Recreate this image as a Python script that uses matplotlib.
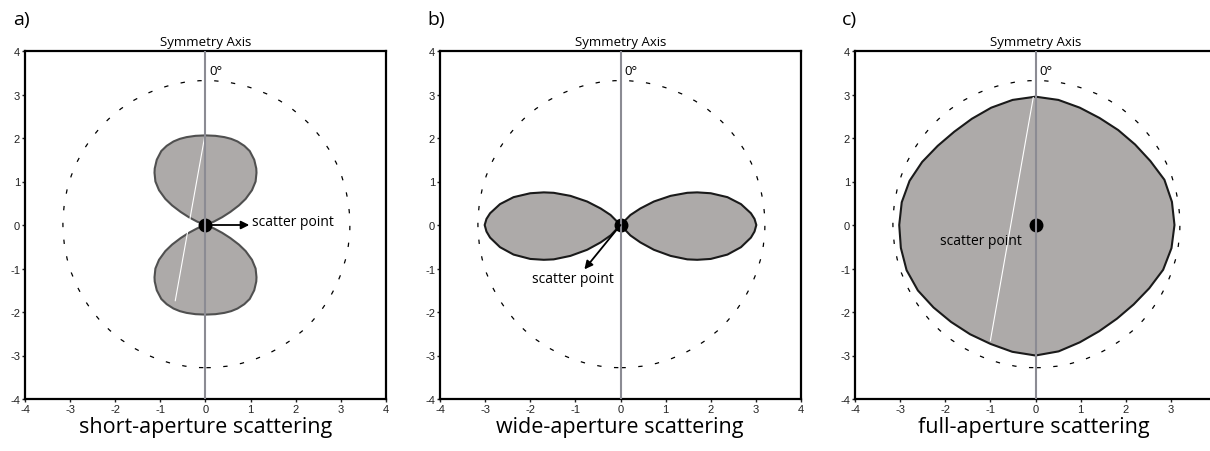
import numpy as np
import matplotlib
matplotlib.use("Agg")
import matplotlib.pyplot as plt
from matplotlib.patches import Polygon, Ellipse

plt.rcParams['axes.unicode_minus'] = False

# ---------------- data ----------------
ticks = [-4, -3, -2, -1, 0, 1, 2, 3, 4]
tick_labels = ['-4', '-3', '-2', '-1', '0', '1', '2', '3', '4']
panel_letters = ['a)', 'b)', 'c)']
panel_titles = ['short-aperture scattering', 'wide-aperture scattering',
                'full-aperture scattering']
axis_label = 'Symmetry Axis'
angle_label = '0°'
point_label = 'scatter point'

# panel a: upper lobe, height vs half-width (mirrored for the lower lobe)
lobeA_y = [2.06, 2.05, 2.02, 1.98, 1.92, 1.82, 1.70, 1.50, 1.30, 1.20, 1.00,
           0.80, 0.60, 0.45, 0.30, 0.18, 0.08, 0.00]
lobeA_hw = [0.00, 0.22, 0.42, 0.57, 0.71, 0.86, 0.98, 1.08, 1.125, 1.13, 1.11,
            1.03, 0.89, 0.74, 0.55, 0.37, 0.19, 0.00]

# panel b: right lobe, distance along x vs upper / lower extent (mirrored for left lobe)
lobeB_x = [0.00, 0.22, 0.44, 0.74, 1.11, 1.48, 1.70, 2.00, 2.37, 2.67, 2.89, 2.97, 3.01]
lobeB_up = [0.00, 0.23, 0.38, 0.54, 0.67, 0.74, 0.75, 0.73, 0.64, 0.48, 0.27, 0.14, 0.00]
lobeB_dn = [0.00, 0.24, 0.40, 0.57, 0.71, 0.79, 0.80, 0.78, 0.68, 0.51, 0.29, 0.15, 0.00]

# panel c: outline radius at every 10 degrees, counter-clockwise from +x
blobC_deg = list(range(0, 360, 10))
blobC_r = [3.08, 3.07, 3.04, 2.94, 2.88, 2.85, 2.84, 2.87, 2.92,
           2.95, 2.92, 2.87, 2.82, 2.80, 2.83, 2.90, 2.97, 3.01,
           3.02, 3.03, 3.04, 3.01, 2.95, 2.91, 2.90, 2.91, 2.96,
           3.00, 2.95, 2.87, 2.82, 2.81, 2.84, 2.91, 3.01, 3.06]

# reference circle (semi-axes in data units)
ring_center = (0.02, 0.02)
ring_rx, ring_ry = 3.18, 3.30

# stray white line segments seen in panels a and c
streakA = ([-0.02, -0.67], [2.02, -1.74])
streakC = ([-0.05, -1.00], [2.93, -2.66])

# ---------------- styling ----------------
FILL = '#adaaa9'
TXT_FONT = ['Open Sans', 'DejaVu Sans']
TICK_FONT = ['Liberation Sans', 'DejaVu Sans']

W, H = 1210, 452
fig = plt.figure(figsize=(W / 100, H / 100), dpi=100)

lefts_px = [25, 440, 855]
letter_px = [13, 427, 842]
title_px = [206, 620, 1034]
ax_w, ax_top, ax_bot = 361, 52, 400

axes = []
for i in range(3):
    ax = fig.add_axes([lefts_px[i] / W, (H - ax_bot) / H, ax_w / W, (ax_bot - ax_top) / H])
    ax.set_xlim(-4, 4)
    ax.set_ylim(-4, 4)
    ax.set_xticks(ticks)
    ax.set_yticks(ticks)
    xl = list(tick_labels)
    if i == 2:
        xl[-1] = ''  # falls outside the picture in the reference
    ax.set_xticklabels(xl, family=TICK_FONT, fontsize=8)
    ax.set_yticklabels(tick_labels, family=TICK_FONT, fontsize=8)
    ax.tick_params(direction='out', length=2.5, width=1.0, pad=1, colors='#222222')
    for s in ax.spines.values():
        s.set_linewidth(1.6)
        s.set_color('black')
    # symmetry axis
    ax.axvline(0, color='#8b8b93', lw=1.5, zorder=4)
    # reference ring
    ax.add_patch(Ellipse(ring_center, 2 * ring_rx, 2 * ring_ry, fill=False,
                         ec='black', lw=0.9, ls=(0, (3.5, 10)), zorder=1))
    # labels
    ax.annotate(axis_label, xy=(0, 1), xycoords=('data', 'axes fraction'),
                xytext=(0, 4), textcoords='offset points', ha='center',
                va='baseline', family=TXT_FONT, fontsize=9.5)
    ax.text(0.09, 3.55, angle_label, ha='left', va='center', family=TXT_FONT,
            fontsize=9.5, zorder=6)
    fig.text(letter_px[i] / W, 1 - 20 / H, panel_letters[i], ha='left',
             va='center', family=TXT_FONT, fontsize=14)
    fig.text(title_px[i] / W, (H - 433) / H, panel_titles[i], ha='center',
             va='baseline', family=TXT_FONT, fontsize=15.5)
    axes.append(ax)

# ---- panel a ----
ax = axes[0]
right = list(zip(lobeA_hw, lobeA_y))
left = [(-x, y) for x, y in zip(lobeA_hw, lobeA_y)][::-1]
top_lobe = right + left
bot_lobe = [(x, -y) for x, y in top_lobe]
for pts in (top_lobe, bot_lobe):
    ax.add_patch(Polygon(pts, closed=True, fc=FILL, ec='#505050', lw=1.5,
                         joinstyle='round', zorder=2))
ax.plot(*streakA, color='white', lw=0.8, zorder=2.5)
ax.plot(0, 0, 'o', ms=9, color='black', zorder=3)
ax.annotate('', xy=(0.97, 0.0), xytext=(0.08, 0.0),
            arrowprops=dict(arrowstyle='-|>', color='black', lw=1.3,
                            mutation_scale=12, shrinkA=0, shrinkB=0), zorder=5)
ax.text(1.04, 0.08, point_label, ha='left', va='center', family=TXT_FONT,
        fontsize=10, zorder=6)

# ---- panel b ----
ax = axes[1]
upper = list(zip(lobeB_x, lobeB_up))
lower = [(x, -y) for x, y in zip(lobeB_x, lobeB_dn)][::-1]
right_lobe = upper + lower
left_lobe = [(-x, y) for x, y in right_lobe]
for pts in (right_lobe, left_lobe):
    ax.add_patch(Polygon(pts, closed=True, fc=FILL, ec='#1a1a1a', lw=1.5,
                         joinstyle='round', zorder=2))
ax.plot(0, 0, 'o', ms=9, color='black', zorder=3)
ax.annotate('', xy=(-0.80, -1.02), xytext=(0.0, 0.0),
            arrowprops=dict(arrowstyle='-|>', color='black', lw=1.3,
                            mutation_scale=12, shrinkA=0, shrinkB=0), zorder=5)
ax.text(-1.05, -1.23, point_label, ha='center', va='center', family=TXT_FONT,
        fontsize=10, zorder=6)

# ---- panel c ----
ax = axes[2]
th = np.deg2rad(blobC_deg)
blob = list(zip(np.array(blobC_r) * np.cos(th), np.array(blobC_r) * np.sin(th)))
ax.add_patch(Polygon(blob, closed=True, fc=FILL, ec='#1a1a1a', lw=1.5,
                     joinstyle='round', zorder=2))
ax.plot(*streakC, color='white', lw=0.8, zorder=2.5)
ax.plot(0, 0, 'o', ms=9, color='black', zorder=3)
ax.text(-1.2, -0.36, point_label, ha='center', va='center', family=TXT_FONT,
        fontsize=10, zorder=6)

fig.savefig('out.png', dpi=100)
